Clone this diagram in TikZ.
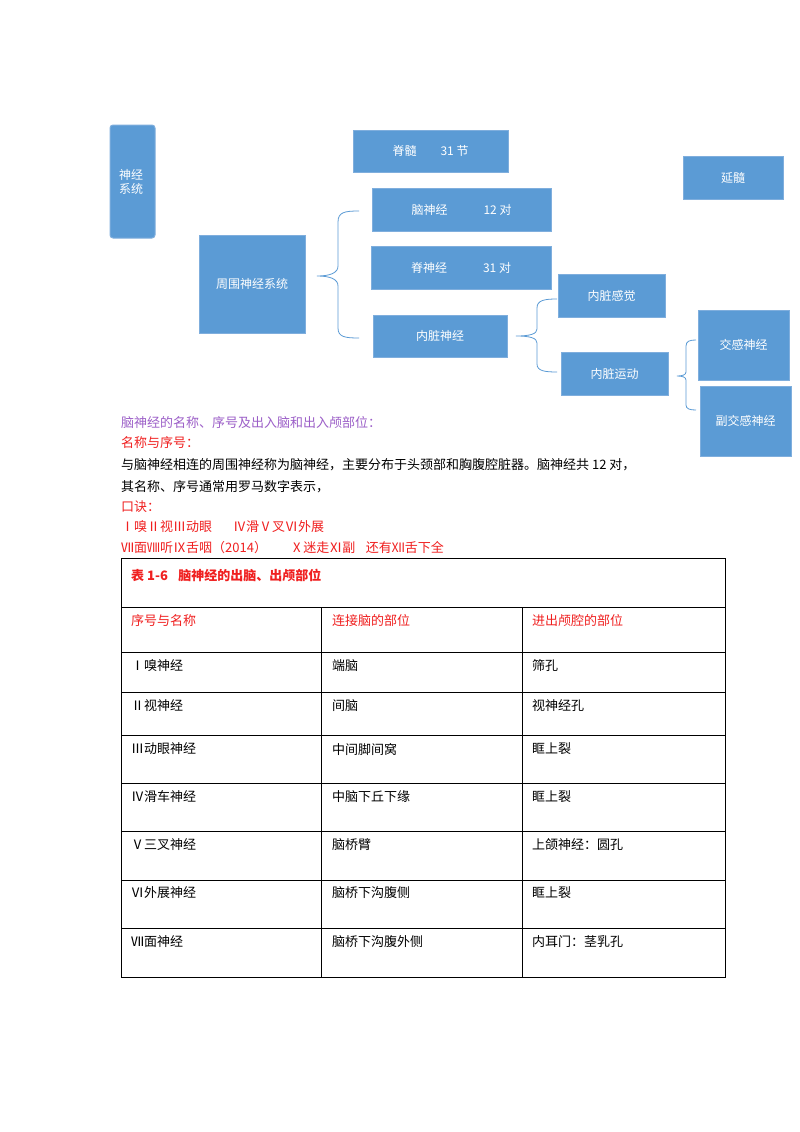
\documentclass[tikz,border=0pt]{standalone}
\usepackage{fontspec}
\setmainfont{Noto Sans CJK SC}
\definecolor{bx}{HTML}{5B9BD5}
\definecolor{bxl}{HTML}{7FAEDD}
\definecolor{pur}{HTML}{9C5FC8}
\definecolor{rd}{HTML}{F02020}
\begin{document}
\begin{tikzpicture}[x=1pt,y=-1pt,
  bb/.style={fill=bx,draw=bxl,line width=1pt,text=white,font=\fontsize{12}{14}\selectfont},
  br/.style={draw=bx,line width=0.8pt},
  tx/.style={anchor=west,inner sep=0pt,font=\fontsize{13}{15}\selectfont},
  tl/.style={draw=black,line width=0.8pt}]
\useasboundingbox (0,0) rectangle (800,1132);
\fill[white] (0,0) rectangle (800,1132);
\newcommand\bxx[6]{\fill[bx,draw=bxl,line width=1pt] (#1,#2) rectangle (#3,#4); \node[text=white,font=\fontsize{12}{14}\selectfont] (#5) at ({(#1+#3)/2},{(#2+#4)/2}) {#6};}
\fill[bx,draw=bxl,line width=1pt,rounded corners=3pt] (110,125) rectangle (155,238);
\node[text=white,font=\fontsize{12}{14}\selectfont,align=left,anchor=north west,inner sep=0pt] (ns) at (119,169) {神经\\系统};
\bxx{353}{130}{508}{172}{jsui}{脊髓\hspace{2em}31 节}
\bxx{683}{156}{783}{199}{yan}{延髓}
\bxx{372}{188}{551}{231}{nao}{脑神经\hspace{3em}12 对}
\bxx{371}{246}{551}{289}{jsj}{脊神经\hspace{3em}31 对}
\bxx{199}{235}{305}{333}{zw}{周围神经系统}
\bxx{373}{315}{507}{357}{nz}{内脏神经}
\bxx{558}{274}{665}{317}{nzg}{内脏感觉}
\bxx{561}{352}{668}{395}{nzy}{内脏运动}
\bxx{698}{310}{789}{380}{jg}{交感神经}
\bxx{700}{386}{791}{456}{fjg}{副交感神经}
% braces
\draw[br] (359,211) .. controls (345,211) and (338,212) .. (338,222) -- (338,266) .. controls (338,273) and (330,276) .. (317,276) .. controls (330,276) and (338,279) .. (338,286) -- (338,328) .. controls (338,337) and (345,338) .. (359,338);
\draw[br] (557,299) .. controls (545,299) and (537,300) .. (537,308) -- (537,329) .. controls (537,334) and (530,336) .. (516,336) .. controls (530,336) and (537,338) .. (537,343) -- (537,364) .. controls (537,371) and (545,372) .. (557,372);
\draw[br] (696,340) .. controls (690,340) and (686,341) .. (686,346) -- (686,372) .. controls (686,375) and (682,376) .. (677,376) .. controls (682,376) and (686,377) .. (686,380) -- (686,405) .. controls (686,409) and (690,410) .. (696,410);
% text
\node[tx,text=pur] (t1) at (121,423) {脑神经的名称、序号及出入脑和出入颅部位：};
\node[tx,text=rd] (t2) at (121,443) {名称与序号：};
\node[tx] (t3) at (121,465) {与脑神经相连的周围神经称为脑神经，主要分布于头颈部和胸腹腔脏器。脑神经共 12 对，};
\node[tx] (t4) at (121,487) {其名称、序号通常用罗马数字表示，};
\node[tx,text=rd] (t5) at (121,507) {口诀：};
\node[tx,text=rd] (t6) at (121,527) {Ⅰ嗅Ⅱ视Ⅲ动眼\hspace{1.6em}Ⅳ滑Ⅴ叉Ⅵ外展};
\node[tx,text=rd] (t7) at (121,548) {Ⅶ面Ⅷ听Ⅸ舌咽（2014）\hspace{1.8em}Ⅹ迷走Ⅺ副\hspace{0.8em}还有Ⅻ舌下全};
% table
\draw[tl] (121,558) rectangle (725,977);
\foreach \y in {607,652,692,735,783,831,880,928} \draw[tl] (121,\y) -- (725,\y);
\draw[tl] (321,607) -- (321,977);
\draw[tl] (522,607) -- (522,977);
\node[tx,text=rd,font=\fontsize{13}{15}\selectfont\bfseries] (h0) at (131,575) {表 1-6\hspace{0.8em}脑神经的出脑、出颅部位};
\node[tx,text=rd] (h1) at (131,621) {序号与名称};
\node[tx,text=rd] (h2) at (332,621) {连接脑的部位};
\node[tx,text=rd] (h3) at (532,621) {进出颅腔的部位};
\foreach \y/\a/\b/\c [count=\i] in {666/Ⅰ嗅神经/端脑/筛孔, 706/Ⅱ视神经/间脑/视神经孔, 749/Ⅲ动眼神经/中间脚间窝/眶上裂, 797/Ⅳ滑车神经/中脑下丘下缘/眶上裂, 845/Ⅴ三叉神经/脑桥臂/上颌神经：圆孔, 893/Ⅵ外展神经/脑桥下沟腹侧/眶上裂, 942/Ⅶ面神经/脑桥下沟腹外侧/内耳门：茎乳孔}{
  \node[tx] (ra\i) at (131,\y) {\a};
  \node[tx] (rb\i) at (332,\y) {\b};
  \node[tx] (rc\i) at (532,\y) {\c};
}
\end{tikzpicture}
\end{document}
